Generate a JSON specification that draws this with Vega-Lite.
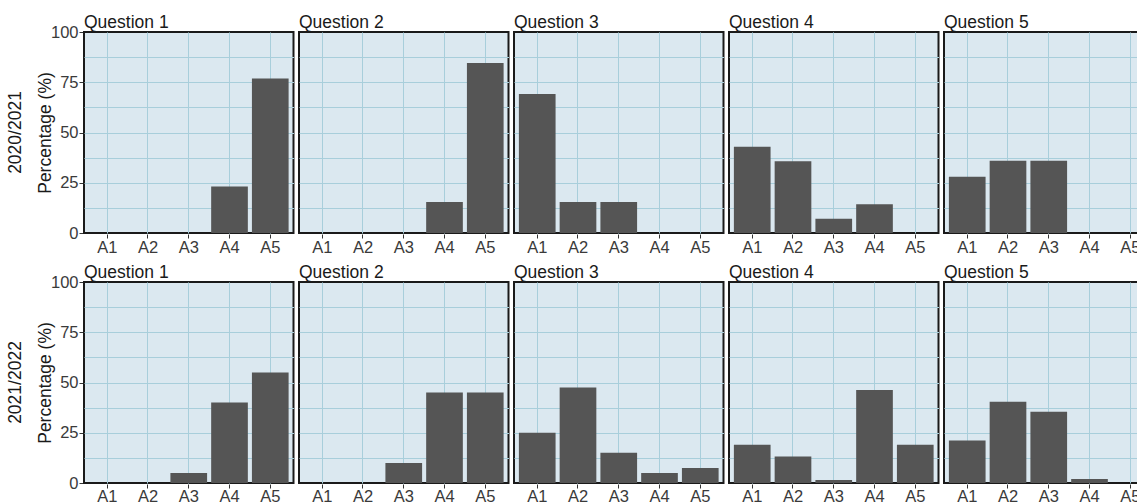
{
  "$schema": "https://vega.github.io/schema/vega-lite/v6.json",
  "padding": {"left": 6, "top": 13, "right": -13, "bottom": 0},
  "background": "white",
  "config": {
    "font": "Liberation Sans",
    "view": {"fill": "#dbe8f0", "stroke": "#1a1a1a", "strokeWidth": 2},
    "axis": {
      "labelFont": "Liberation Sans",
      "labelFontSize": 16.5,
      "labelColor": "#3a3a3a",
      "titleFont": "Liberation Sans",
      "titleFontSize": 17.5,
      "titleFontWeight": "normal",
      "titleColor": "#1a1a1a",
      "domain": false,
      "tickColor": "#333333",
      "tickSize": 4,
      "gridColor": "#a8cedb",
      "gridWidth": 1,
      "gridOpacity": 1
    },
    "header": {
      "labelFont": "Liberation Sans",
      "labelFontSize": 17.5,
      "labelColor": "#1a1a1a"
    },
    "bar": {"fill": "#555555"}
  },
  "data": {
    "values": [
      {"year": "2020/2021", "question": "Question 1", "answer": "A4", "pct": 23.1},
      {"year": "2020/2021", "question": "Question 1", "answer": "A5", "pct": 76.9},
      {"year": "2020/2021", "question": "Question 2", "answer": "A4", "pct": 15.4},
      {"year": "2020/2021", "question": "Question 2", "answer": "A5", "pct": 84.6},
      {"year": "2020/2021", "question": "Question 3", "answer": "A1", "pct": 69.2},
      {"year": "2020/2021", "question": "Question 3", "answer": "A2", "pct": 15.4},
      {"year": "2020/2021", "question": "Question 3", "answer": "A3", "pct": 15.4},
      {"year": "2020/2021", "question": "Question 4", "answer": "A1", "pct": 42.9},
      {"year": "2020/2021", "question": "Question 4", "answer": "A2", "pct": 35.7},
      {"year": "2020/2021", "question": "Question 4", "answer": "A3", "pct": 7.1},
      {"year": "2020/2021", "question": "Question 4", "answer": "A4", "pct": 14.3},
      {"year": "2020/2021", "question": "Question 5", "answer": "A1", "pct": 28},
      {"year": "2020/2021", "question": "Question 5", "answer": "A2", "pct": 36},
      {"year": "2020/2021", "question": "Question 5", "answer": "A3", "pct": 36},
      {"year": "2021/2022", "question": "Question 1", "answer": "A3", "pct": 5},
      {"year": "2021/2022", "question": "Question 1", "answer": "A4", "pct": 40},
      {"year": "2021/2022", "question": "Question 1", "answer": "A5", "pct": 55},
      {"year": "2021/2022", "question": "Question 2", "answer": "A3", "pct": 10},
      {"year": "2021/2022", "question": "Question 2", "answer": "A4", "pct": 45},
      {"year": "2021/2022", "question": "Question 2", "answer": "A5", "pct": 45},
      {"year": "2021/2022", "question": "Question 3", "answer": "A1", "pct": 25},
      {"year": "2021/2022", "question": "Question 3", "answer": "A2", "pct": 47.5},
      {"year": "2021/2022", "question": "Question 3", "answer": "A3", "pct": 15},
      {"year": "2021/2022", "question": "Question 3", "answer": "A4", "pct": 5},
      {"year": "2021/2022", "question": "Question 3", "answer": "A5", "pct": 7.5},
      {"year": "2021/2022", "question": "Question 4", "answer": "A1", "pct": 19},
      {"year": "2021/2022", "question": "Question 4", "answer": "A2", "pct": 13.2},
      {"year": "2021/2022", "question": "Question 4", "answer": "A3", "pct": 1.5},
      {"year": "2021/2022", "question": "Question 4", "answer": "A4", "pct": 46.3},
      {"year": "2021/2022", "question": "Question 4", "answer": "A5", "pct": 19},
      {"year": "2021/2022", "question": "Question 5", "answer": "A1", "pct": 21.2},
      {"year": "2021/2022", "question": "Question 5", "answer": "A2", "pct": 40.4},
      {"year": "2021/2022", "question": "Question 5", "answer": "A3", "pct": 35.4},
      {"year": "2021/2022", "question": "Question 5", "answer": "A4", "pct": 2}
    ]
  },
  "spacing": 7,
  "vconcat": [
    {
      "transform": [{"filter": "datum.year == '2020/2021'"}],
      "facet": {
        "row": {"field": "year", "type": "nominal", "header": {"title": null, "labelAngle": -90, "labelOrient": "left", "labelPadding": 3}},
        "column": {"field": "question", "type": "nominal", "header": {"title": null, "labelAnchor": "start", "labelPadding": 0}}
      },
      "spacing": {"column": 3},
      "spec": {
        "width": 209.5,
        "height": 201,
        "mark": {"type": "bar"},
        "encoding": {
          "x": {
            "field": "answer", "type": "nominal",
            "scale": {"domain": ["A1", "A2", "A3", "A4", "A5"], "paddingInner": 0.1, "paddingOuter": 0.12},
            "axis": {"title": null, "labelAngle": 0, "labelPadding": 1, "grid": true, "bandPosition": 0.5}
          },
          "y": {
            "field": "pct", "type": "quantitative",
            "scale": {"domain": [0, 100], "nice": false},
            "axis": {
              "title": "Percentage (%)", "titlePadding": -4, "labelPadding": 1,
              "values": [0, 12.5, 25, 37.5, 50, 62.5, 75, 87.5, 100],
              "labelExpr": "datum.value % 25 == 0 ? datum.label : ''",
              "tickOpacity": {"condition": {"test": "datum.value % 25 != 0", "value": 0}, "value": 1},
              "gridOpacity": {"condition": {"test": "datum.value == 0 || datum.value == 100", "value": 0}, "value": 1}
            }
          }
        }
      }
    },
    {
      "transform": [{"filter": "datum.year == '2021/2022'"}],
      "facet": {
        "row": {"field": "year", "type": "nominal", "header": {"title": null, "labelAngle": -90, "labelOrient": "left", "labelPadding": 3}},
        "column": {"field": "question", "type": "nominal", "header": {"title": null, "labelAnchor": "start", "labelPadding": 0}}
      },
      "spacing": {"column": 3},
      "spec": {
        "width": 209.5,
        "height": 201,
        "mark": {"type": "bar"},
        "encoding": {
          "x": {
            "field": "answer", "type": "nominal",
            "scale": {"domain": ["A1", "A2", "A3", "A4", "A5"], "paddingInner": 0.1, "paddingOuter": 0.12},
            "axis": {"title": null, "labelAngle": 0, "labelPadding": 0, "grid": true, "bandPosition": 0.5}
          },
          "y": {
            "field": "pct", "type": "quantitative",
            "scale": {"domain": [0, 100], "nice": false},
            "axis": {
              "title": "Percentage (%)", "titlePadding": -4, "labelPadding": 1,
              "values": [0, 12.5, 25, 37.5, 50, 62.5, 75, 87.5, 100],
              "labelExpr": "datum.value % 25 == 0 ? datum.label : ''",
              "tickOpacity": {"condition": {"test": "datum.value % 25 != 0", "value": 0}, "value": 1},
              "gridOpacity": {"condition": {"test": "datum.value == 0 || datum.value == 100", "value": 0}, "value": 1}
            }
          }
        }
      }
    }
  ]
}
